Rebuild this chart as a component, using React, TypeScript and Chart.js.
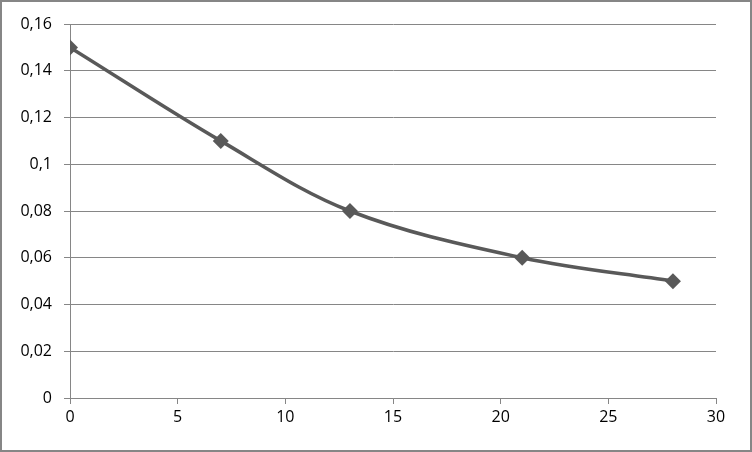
import React, { useEffect, useRef } from "react";
import { Chart, registerables } from "chart.js";

Chart.register(...registerables);

const xValues = [0, 7, 13, 21, 28];
const yValues = [0.15, 0.11, 0.08, 0.06, 0.05];
const xTickStep = 5;
const xMax = 30;
const yTickStep = 0.02;
const yMax = 0.16;

const fmt = (v: number) => {
  const n = Number(Number(v).toFixed(2));
  return String(n).replace(".", ",");
};

export default function App() {
  const ref = useRef<HTMLCanvasElement | null>(null);
  useEffect(() => {
    document.body.style.margin = "0";
    const ctx = ref.current!;
    const font = { family: "'Open Sans', Lato, sans-serif", size: 16 };
    const chart = new Chart(ctx, {
      type: "line",
      data: {
        datasets: [
          {
            data: xValues.map((x, i) => ({ x, y: yValues[i] })),
            borderColor: "#595959",
            backgroundColor: "#595959",
            borderWidth: 3.5,
            tension: 0.35,
            pointStyle: "rectRot",
            pointRadius: 8,
            pointBorderWidth: 0,
            fill: false,
          },
        ],
      },
      options: {
        animation: false,
        responsive: false,
        maintainAspectRatio: false,
        layout: { padding: { top: 22, right: 34, left: 0, bottom: 0 } },
        plugins: { legend: { display: false }, tooltip: { enabled: false } },
        scales: {
          x: {
            type: "linear",
            min: 0,
            max: xMax,
            ticks: { stepSize: xTickStep, color: "#000", font, padding: 4, maxRotation: 0 },
            grid: { drawOnChartArea: false, drawTicks: true, tickLength: 6, color: "#868686", lineWidth: 1 },
            border: { color: "#868686", width: 1 },
            afterFit: (s: any) => {
              s.height = 52;
            },
          },
          y: {
            min: 0,
            max: yMax,
            ticks: { stepSize: yTickStep, color: "#000", font, padding: 12, callback: (v: any) => fmt(v) },
            grid: { color: "#868686", lineWidth: 1, tickLength: 6 },
            border: { color: "#868686", width: 1 },
            afterFit: (s: any) => {
              s.width = 68;
            },
          },
        },
      },
    });
    return () => chart.destroy();
  }, []);
  return (
    <div
      style={{
        width: 752,
        height: 452,
        boxSizing: "border-box",
        border: "2px solid #868686",
        background: "#fff",
      }}
    >
      <canvas ref={ref} width={748} height={448} style={{ display: "block" }} />
    </div>
  );
}
